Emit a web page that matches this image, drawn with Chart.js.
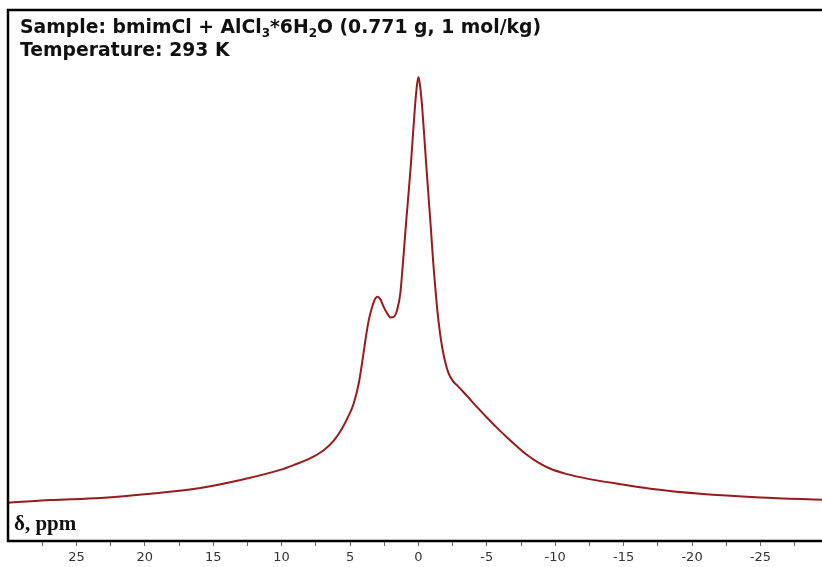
<!DOCTYPE html>
<html>
<head>
<meta charset="utf-8">
<script src="https://cdn.jsdelivr.net/npm/chart.js@4.4.0/dist/chart.umd.min.js"></script>
<style>
    html, body { margin: 0; padding: 0; background: #fff; overflow: hidden; }
</style>
</head>
<body>
<canvas id="myChart" width="822" height="567"></canvas>
<script>
// chemical shift (ppm) and signal intensity
var shifts = [30, 26.9, 23.25, 19.6, 15.95, 13.0, 10.1, 9.12, 7.89, 6.92, 6.19, 5.58, 5.10, 4.73, 4.36,
    4.12, 3.87, 3.63, 3.38, 3.14, 2.98, 2.78, 2.54, 2.29, 2.05, 1.81, 1.56, 1.32, 1.19, 1.05, 0.9,
    0.72, 0.55, 0.4, 0.26, 0.13, 0, -0.13, -0.27, -0.42, -0.58, -0.75, -0.92, -1.08, -1.24, -1.4,
    -1.57, -1.75, -1.95, -2.2, -2.5, -2.83, -3.2, -3.56, -4.29, -5.02, -5.75, -6.48, -7.21, -7.95,
    -8.68, -9.65, -10.87, -12.33, -14.77, -16.96, -20.61, -25.0, -29.5];
var intensity = [7.2, 7.7, 8.1, 8.9, 10.0, 11.5, 13.4, 14.3, 15.6, 17.1, 18.9, 21.2, 23.6, 25.9, 29.7,
    33.5, 37.9, 41.6, 44.1, 45.7, 46.0, 45.5, 44.1, 42.9, 42.1, 42.2, 43.5, 46.7, 50.5, 55.0, 60.0,
    65.5, 71.0, 76.5, 81.5, 85.3, 87.4, 85.5, 81.8, 76.5, 70.5, 64.5, 58.5, 52.5, 47.5, 43.0,
    39.3, 36.3, 33.8, 31.6, 30.2, 29.3, 28.3, 27.3, 25.2, 23.2, 21.3, 19.5, 17.8, 16.2,
    14.9, 13.6, 12.6, 11.75, 10.7, 9.85, 8.9, 8.2, 7.75];
var tickValues = [27.5, 25, 22.5, 20, 17.5, 15, 12.5, 10, 7.5, 5, 2.5, 0, -2.5, -5, -7.5, -10,
    -12.5, -15, -17.5, -20, -22.5, -25, -27.5];

// header lines, [text, subscript?]
var line1 = [['Sample: bmimCl + AlCl', false], ['3', true], ['*6H', false], ['2', true], ['O (0.771 g, 1 mol/kg)', false]];
var line2 = [['Temperature: 293 K', false]];
var axisName = 'δ, ppm';

var points = shifts.map(function(s, i) { return { x: s, y: intensity[i] }; });

// frame + texts inside the plot box
var framePlugin = {
    id: 'frame',
    afterDraw: function(chart) {
        var ctx = chart.ctx;
        var a = chart.chartArea;
        ctx.save();
        ctx.strokeStyle = '#000';
        ctx.lineWidth = 2.5;
        ctx.beginPath();
        ctx.moveTo(chart.width + 5, a.top);
        ctx.lineTo(a.left, a.top);
        ctx.lineTo(a.left, a.bottom);
        ctx.lineTo(chart.width + 5, a.bottom);
        ctx.stroke();

        function drawLine(parts, x, y) {
            parts.forEach(function(p) {
                if (p[1]) {
                    ctx.font = 'bold 12px "DejaVu Sans"';
                    ctx.fillText(p[0], x, y + 4);
                } else {
                    ctx.font = 'bold 18.8px "DejaVu Sans"';
                    ctx.fillText(p[0], x, y);
                }
                x += ctx.measureText(p[0]).width;
            });
        }
        ctx.fillStyle = '#111';
        ctx.textBaseline = 'alphabetic';
        drawLine(line1, 20, 33);
        drawLine(line2, 20, 56);

        ctx.font = 'bold 21px "Liberation Serif"';
        ctx.fillText(axisName, 14, 530);
        ctx.restore();
    }
};

var ctx = document.getElementById('myChart').getContext('2d');
var myChart = new Chart(ctx, {
    type: 'line',
    data: {
        datasets: [{
            data: points,
            borderColor: '#981a1c',
            borderWidth: 2,
            pointRadius: 0,
            cubicInterpolationMode: 'monotone',
            fill: false
        }]
    },
    options: {
        responsive: false,
        animation: false,
        layout: { padding: { left: 8, top: 10, right: 0, bottom: 0 } },
        plugins: { legend: { display: false }, tooltip: { enabled: false } },
        scales: {
            x: {
                type: 'linear',
                reverse: true,
                min: -29.5,
                max: 30,
                afterBuildTicks: function(axis) {
                    axis.ticks = tickValues.map(function(v) { return { value: v }; });
                },
                afterFit: function(axis) { axis.height = 26; },
                grid: { drawOnChartArea: false, drawTicks: true, tickLength: 5, color: '#666' },
                border: { display: false },
                ticks: {
                    autoSkip: false,
                    maxRotation: 0,
                    padding: 4,
                    color: '#333',
                    font: { family: 'DejaVu Sans', size: 13 },
                    callback: function(v) { return v % 5 === 0 ? String(v) : ''; }
                }
            },
            y: {
                display: false,
                min: 0,
                max: 100
            }
        }
    },
    plugins: [framePlugin]
});
</script>
</body>
</html>
